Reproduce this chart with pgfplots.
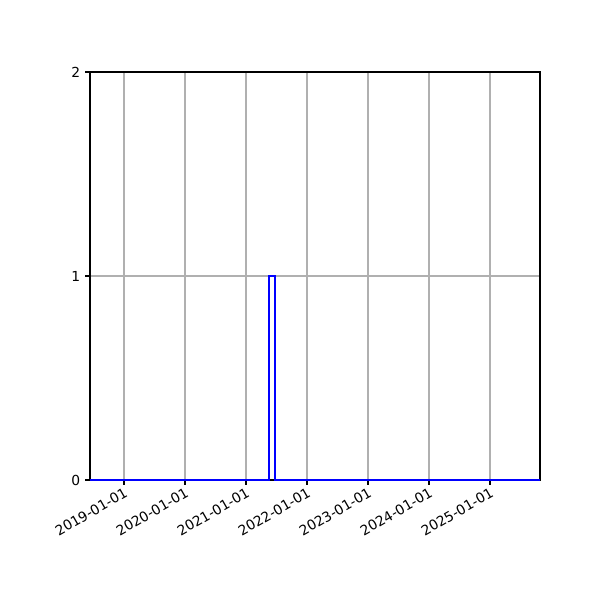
\documentclass[border=0pt]{standalone}
\usepackage{pgfplots}
\pgfplotsset{compat=1.18}
\usepackage{fontspec}
\setmainfont{DejaVu Sans}
\begin{document}
\begin{tikzpicture}
\path[use as bounding box] (-0.9in,-1.2in) rectangle (5.1in,4.8in);
\begin{axis}[
  at={(0,0)}, anchor=south west,
  scale only axis, width=4.5in, height=4.08in,
  xmin=2018.443, xmax=2025.82, ymin=0, ymax=2,
  xtick={2019,2020,2021,2022,2023,2024,2025},
  xticklabels={2019-01-01,2020-01-01,2021-01-01,2022-01-01,2023-01-01,2024-01-01,2025-01-01},
  ytick={0,1,2},
  x tick label style={rotate=30, anchor=north east, inner sep=1pt},
  tick label style={font=\fontsize{10}{12}\selectfont, /pgf/number format/assume math mode=true},
  grid=major, major grid style={color=black!31, line width=0.8pt},
  axis line style={line width=0.8pt},
  tick align=outside, tick pos=left, major tick length=3.5pt,
  tick style={black, line width=0.8pt},
  axis on top=false,
]
\addplot[blue, line width=1.5pt, line join=miter] coordinates {
  (2018.443,0) (2021.377,0) (2021.377,1) (2021.475,1) (2021.475,0) (2025.82,0)
};
\end{axis}
\end{tikzpicture}
\end{document}
